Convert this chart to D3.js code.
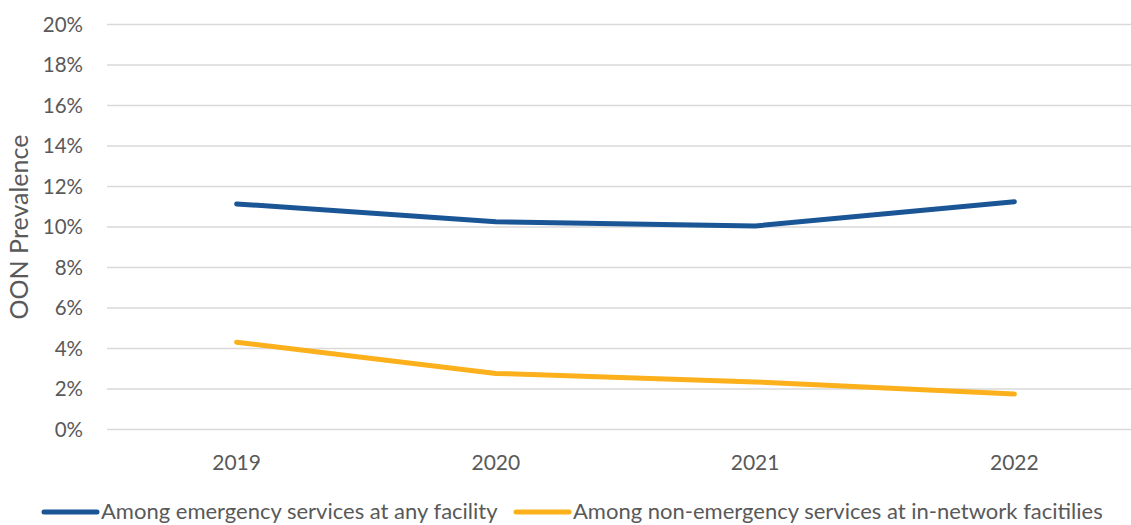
<!DOCTYPE html>
<html>
<head>
<meta charset="utf-8">
<script src="https://cdn.jsdelivr.net/npm/d3@7"></script>
<style>
  body { margin: 0; background: #fff; }
  svg { display: block; font-family: Lato, "Open Sans", sans-serif; }
</style>
</head>
<body>
<svg width="1131" height="525"></svg>
<script>
var years = ['2019', '2020', '2021', '2022']
var emergency = [11.14, 10.26, 10.05, 11.25]
var nonEmergency = [4.31, 2.77, 2.35, 1.75]
var yTicks = [0, 2, 4, 6, 8, 10, 12, 14, 16, 18, 20]
var seriesNames = ['Among emergency services at any facility', 'Among non-emergency services at in-network facitilies']
var colors = ['#1a5596', '#fcb01b']

var svg = d3.select('svg')

var x = d3.scaleBand().domain(years).range([107, 1144])
var y = d3.scaleLinear().domain([0, 20]).range([429.5, 24.5])

// gridlines
svg.append('g')
  .selectAll('line')
  .data(yTicks)
  .enter().append('line')
    .attr('x1', 107)
    .attr('x2', 1131)
    .attr('y1', function (d) { return y(d) })
    .attr('y2', function (d) { return y(d) })
    .style('stroke', '#d9d9d9')
    .style('stroke-width', 1.3)

// y tick labels
svg.append('g')
  .selectAll('text')
  .data(yTicks)
  .enter().append('text')
    .attr('x', 83)
    .attr('y', function (d) { return y(d) })
    .attr('dy', '0.35em')
    .attr('text-anchor', 'end')
    .style('font-size', '20.5px')
    .style('fill', '#595959')
    .text(function (d) { return d + '%' })

// x labels
svg.append('g')
  .selectAll('text')
  .data(years)
  .enter().append('text')
    .attr('x', function (d) { return x(d) + x.bandwidth() / 2 })
    .attr('y', 470)
    .attr('text-anchor', 'middle')
    .style('font-size', '21px')
    .style('fill', '#595959')
    .text(function (d) { return d })

svg.append('text')
  .attr('transform', 'translate(28,227) rotate(-90)')
  .attr('text-anchor', 'middle')
  .style('font-size', '25px')
  .style('fill', '#595959')
  .text('OON Prevalence')

var line = d3.line()
  .x(function (d, i) { return x(years[i]) + x.bandwidth() / 2 })
  .y(function (d) { return y(d) })

;[emergency, nonEmergency].forEach(function (s, i) {
  svg.append('path')
    .datum(s)
    .attr('d', line)
    .style('fill', 'none')
    .style('stroke', colors[i])
    .style('stroke-width', 5)
    .style('stroke-linecap', 'round')
    .style('stroke-linejoin', 'round')
})

// legend
var legendX = [44, 516]
seriesNames.forEach(function (name, i) {
  var g = svg.append('g').attr('transform', 'translate(' + legendX[i] + ',512)')
  g.append('line')
    .attr('x1', 0).attr('x2', 53)
    .style('stroke', colors[i])
    .style('stroke-width', 5)
    .style('stroke-linecap', 'round')
  g.append('text')
    .attr('x', 57)
    .attr('dy', '0.3em')
    .style('font-size', '22px')
    .style('fill', '#595959')
    .text(name)
})
</script>
</body>
</html>
